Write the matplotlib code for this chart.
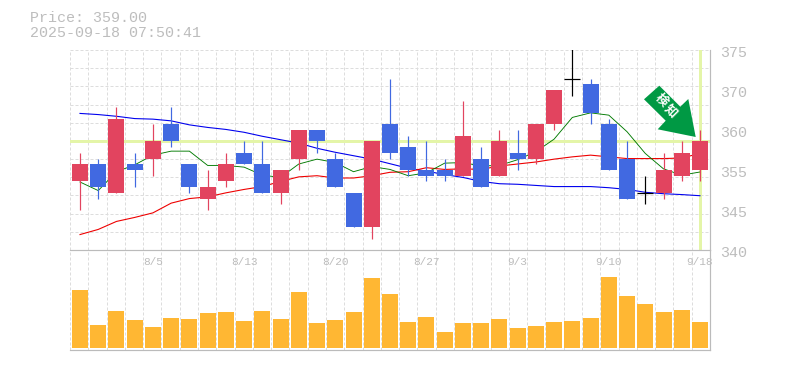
import matplotlib
matplotlib.use('Agg')

import matplotlib.pyplot as plt
from matplotlib.patches import Polygon
from matplotlib.transforms import blended_transform_factory
import numpy as np

# price data, one entry per trading day
opens = [352, 355, 350, 355, 356, 362, 355, 349, 352, 357, 355, 350, 356, 361, 356, 350, 344, 362,
         358, 354, 354, 353, 356, 353, 357, 356, 362, 370, 369, 362, 356, 350, 350, 353, 354]
closes = [355, 351, 363, 354, 359, 359, 351, 351, 355, 355, 350, 354, 361, 359, 351, 344, 359, 357,
          354, 353, 353, 360, 351, 359, 356, 362, 368, 370, 364, 354, 349, 350, 354, 357, 359]
highs = [357, 356, 365, 357, 362, 365, 355, 354, 357, 359, 359, 354, 361, 361, 357, 350, 359, 370,
         360, 359, 356, 366, 358, 361, 361, 362, 368, 378, 370, 363, 359, 353, 357, 359, 361]
lows = [347, 349, 350, 351, 353, 358, 350, 347, 351, 355, 350, 348, 354, 357, 351, 344, 342, 356,
        353, 352, 352, 353, 351, 353, 354, 355, 361, 367, 362, 354, 349, 348, 349, 352, 352]

ma_short = [351.9, 350.4, 353.7, 354.9, 356.6, 357.3, 357.3, 354.8, 354.8, 354.5, 353.1, 352.7,
            355.05, 355.9, 355.3, 353.7, 354.6, 354.1, 353.0, 353.5, 355.2, 355.3, 354.7, 354.8,
            355.8, 357.2, 359.4, 363.2, 364.0, 363.6, 360.7, 356.9, 354.2, 353.1, 353.65]
ma_mid = [342.7, 343.6, 345.0, 345.7, 346.5, 348.2, 349.0, 349.3, 350.0, 350.6, 351.1, 352.0,
          352.8, 353.0, 352.6, 352.6, 353.0, 353.6, 353.7, 354.4, 354.1, 354.2, 354.1, 354.7,
          355.05, 355.4, 355.9, 356.3, 356.6, 356.3, 356.0, 356.0, 356.0, 356.1, 356.9]
ma_long = [363.9, 363.7, 363.4, 363.0, 362.9, 362.6, 361.9, 361.45, 361.1, 360.6, 359.9, 359.3,
           358.7, 357.8, 357.1, 356.5, 355.9, 355.1, 354.3, 353.8, 353.2, 352.7, 352.0, 351.6,
           351.5, 351.3, 351.1, 351.1, 351.1, 350.9, 350.6, 350.1, 349.85, 349.7, 349.5]

volumes = [58, 23, 37, 28, 21, 30, 29, 35, 36, 27, 37, 29, 56, 25, 28, 36, 70, 54,
           26, 31, 16, 25, 25, 29, 20, 22, 26, 27, 30, 71, 52, 44, 36, 38, 26]

date_idx = [4, 9, 14, 19, 24, 29, 34]
date_labels = ['8/5', '8/13', '8/20', '8/27', '9/3', '9/10', '9/18']
price_ticks = [375, 368, 361, 354, 347, 340]
price_labels = ['375', '370', '360', '355', '345', '340']
last_price = 359
arrow_px = [(644, 99.3), (659.3, 85.7), (680.3, 106.7), (688.3, 99), (695.7, 137), (657.7, 129.3), (665.7, 120.7)]

W, H = 785, 370
RED = '#e2445f'
BLUE = '#4169e1'
GREEN = '#009944'
TEXT = '#bdbdbd'
GRID = '#dddddd'
BORDER = '#bbbbbb'
PRICE_LINE = '#e4f5a8'
MONO = 'Liberation Mono'
px = 0.72  # one pixel in points at dpi 100

fig = plt.figure(figsize=(W / 100, H / 100), dpi=100)
ax = fig.add_axes([70 / W, 1 - 250 / H, 640 / W, 200 / H])
vol = fig.add_axes([70 / W, 1 - 350 / H, 640 / W, 100 / H])

x = np.arange(len(opens))
xlim = (-0.548, 34.55)
vgrid = np.linspace(xlim[0], xlim[1], 36)

for a in (ax, vol):
    a.set_xlim(*xlim)
    a.set_xticks(vgrid)
    a.set_xticklabels([])
    a.tick_params(length=0, labelleft=False, labelbottom=False)
    a.grid(True, axis='x', color=GRID, lw=px, linestyle=(0, (3, 2)))
    a.set_axisbelow(True)
    for s in ('top', 'left'):
        a.spines[s].set_visible(False)
    for s in ('right', 'bottom'):
        a.spines[s].set_color(BORDER)
        a.spines[s].set_linewidth(1.2 * px)

ax.set_ylim(340, 375)
ax.set_yticks(np.linspace(340, 375, 12))
ax.set_yticklabels([])
ax.grid(True, axis='y', color=GRID, lw=px, linestyle=(0, (3, 2)))
ax.spines['bottom'].set_visible(False)

# current price cross
ax.axhline(last_price, color=PRICE_LINE, lw=3 * px, zorder=1.5)
ax.axvline(x[-1], color=PRICE_LINE, lw=3 * px, zorder=1.5)

ax.plot(x, ma_long, color='#0000ee', lw=1.1 * px, zorder=2)
ax.plot(x, ma_mid, color='#ee0000', lw=1.1 * px, zorder=2)
ax.plot(x, ma_short, color='#007a00', lw=0.9 * px, zorder=2)

body_w = 16 / 18.235
for i in x:
    o, c, h, l = opens[i], closes[i], highs[i], lows[i]
    if o == c:
        ax.vlines(i, l, h, color='black', lw=1.2 * px, zorder=3)
        ax.hlines(o, i - body_w / 2, i + body_w / 2, color='black', lw=1.2 * px, zorder=3)
        continue
    col = RED if c > o else BLUE
    ax.vlines(i, l, h, color=col, lw=1.2 * px, zorder=3)
    ax.bar(i, abs(c - o), bottom=min(o, c), width=body_w, color=col, lw=0, zorder=4)

vol.set_ylim(-2, 98)
vol.set_yticks([])
vol.bar(x, volumes, width=body_w, color='#ffb733', lw=0, zorder=3)
vol.spines['top'].set_visible(True)
vol.spines['top'].set_color(BORDER)
vol.spines['top'].set_linewidth(1.2 * px)

# labels
tr = blended_transform_factory(vol.transData, vol.transAxes)
for i, lab in zip(date_idx, date_labels):
    vol.text(i, 0.88, lab, transform=tr, ha='center', va='center', family=MONO, fontsize=8, color=TEXT, zorder=5)

tr2 = blended_transform_factory(ax.transAxes, ax.transData)
for v, lab in zip(price_ticks, price_labels):
    ax.annotate(lab, (1, v), xycoords=tr2, xytext=(10, -3), textcoords='offset pixels',
                ha='left', va='center', family=MONO, fontsize=10.8, color=TEXT)

fig.text(30 / W, 1 - 18 / H, 'Price: 359.00', ha='left', va='center', family=MONO, fontsize=10.8, color=TEXT)
fig.text(30 / W, 1 - 33 / H, '2025-09-18 07:50:41', ha='left', va='center', family=MONO, fontsize=10.8, color=TEXT)

# signal arrow, placed in figure pixels
pts = [(px_x / W, 1 - px_y / H) for px_x, px_y in arrow_px]
fig.add_artist(Polygon(pts, closed=True, transform=fig.transFigure, facecolor=GREEN, edgecolor='none', zorder=10))
fig.text(661 / W, 1 - 100 / H, '検', rotation=-45, ha='center', va='center', color='white', fontsize=9,
         fontweight='bold', family=['Noto Sans CJK JP', 'DejaVu Sans'], zorder=11)
fig.text(671 / W, 1 - 111 / H, '知', rotation=-45, ha='center', va='center', color='white', fontsize=9,
         fontweight='bold', family=['Noto Sans CJK JP', 'DejaVu Sans'], zorder=11)

plt.savefig('out.png', dpi=100)
plt.close()
